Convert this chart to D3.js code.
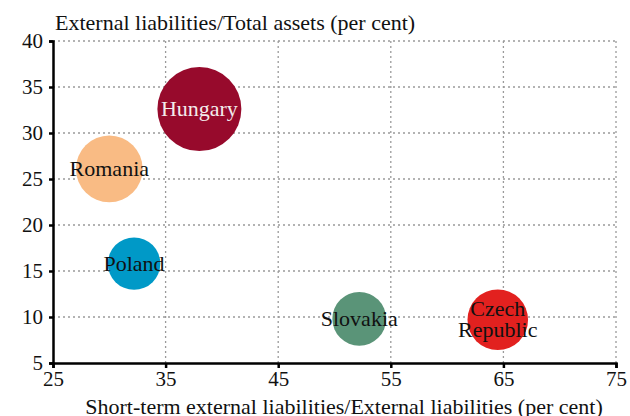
<!DOCTYPE html>
<html>
<head>
<meta charset="utf-8">
<script src="https://cdn.jsdelivr.net/npm/d3@7"></script>
<style>
  body { margin: 0; background: #fff; }
  svg text { font-family: "Liberation Serif", "Times New Roman", serif; }
  .grid line { stroke: #9a9a9a; stroke-width: 1.3; stroke-dasharray: 2,3; }
  .axis path, .axis line { stroke: #000; stroke-width: 2.5; }
  .axis text { font-size: 21px; fill: #111; }
</style>
</head>
<body>
<div id="chart"></div>
<script>
// country bubbles
let countries = ["Hungary", "Romania", "Poland", "Slovakia", "Czech Republic"];
let shortTermShare = [38.0, 30.0, 32.2, 52.2, 64.5];   // x, per cent
let extLiabShare = [32.6, 26.1, 15.8, 9.8, 9.7];       // y, per cent
let bubbleSize = [100, 63, 39, 41, 52];                // relative size
let colors = ["#970a2c", "#f9bb84", "#0099c7", "#5a9478", "#e2211f"];
let labelColors = ["#f4ecec", "#111", "#111", "#111", "#111"];

let xTicks = [25, 35, 45, 55, 65, 75];
let yTicks = [5, 10, 15, 20, 25, 30, 35, 40];

let margin = { top: 41, right: 14, bottom: 53, left: 53 };
let width = 630 - margin.left - margin.right;
let height = 416 - margin.top - margin.bottom;

let svg = d3.select("#chart")
  .append("svg")
  .attr("width", 630)
  .attr("height", 416);

let g = svg.append("g")
  .attr("transform", "translate(" + margin.left + "," + margin.top + ")");

let x = d3.scaleLinear().domain([25, 75]).range([0, width]);
let y = d3.scaleLinear().domain([5, 40]).range([height, 0]);
let r = d3.scaleSqrt().domain([0, 100]).range([0, 42]);

// dotted grid
let grid = g.append("g").attr("class", "grid");

grid.selectAll("line.h")
  .data(yTicks.slice(1))
  .enter()
  .append("line")
  .attr("class", "h")
  .attr("x1", 0)
  .attr("x2", width)
  .attr("y1", (d) => y(d))
  .attr("y2", (d) => y(d));

grid.selectAll("line.v")
  .data(xTicks.slice(1))
  .enter()
  .append("line")
  .attr("class", "v")
  .attr("x1", (d) => x(d))
  .attr("x2", (d) => x(d))
  .attr("y1", 0)
  .attr("y2", height);

// bubbles
let data = countries.map((c, i) => ({
  name: c,
  x: shortTermShare[i],
  y: extLiabShare[i],
  size: bubbleSize[i],
  color: colors[i],
  labelColor: labelColors[i]
}));

g.selectAll("circle")
  .data(data)
  .enter()
  .append("circle")
  .attr("cx", (d) => x(d.x))
  .attr("cy", (d) => y(d.y))
  .attr("r", (d) => r(d.size))
  .attr("fill", (d) => d.color);

// labels (Czech Republic on two lines)
let labels = g.selectAll(".bubble-label")
  .data(data)
  .enter()
  .append("text")
  .attr("class", "bubble-label")
  .attr("text-anchor", "middle")
  .style("font-size", "22px")
  .style("fill", (d) => d.labelColor)
  .attr("x", (d) => x(d.x))
  .attr("y", (d) => y(d.y) + 7);

labels.each(function (d) {
  let words = d.name === "Czech Republic" ? ["Czech", "Republic"] : [d.name];
  let t = d3.select(this);
  words.forEach((w, i) => {
    t.append("tspan")
      .attr("x", x(d.x))
      .attr("dy", i === 0 ? (words.length > 1 ? -11 : 0) : 21)
      .text(w);
  });
});

// axes
g.append("g")
  .attr("class", "axis")
  .attr("transform", "translate(0," + height + ")")
  .call(d3.axisBottom(x).tickValues(xTicks).tickSize(5).tickPadding(3));

g.append("g")
  .attr("class", "axis")
  .call(d3.axisLeft(y).tickValues(yTicks).tickSize(4).tickPadding(6));

// axis titles
svg.append("text")
  .attr("x", 55)
  .attr("y", 30)
  .style("font-size", "22px")
  .style("fill", "#111")
  .text("External liabilities/Total assets (per cent)");

svg.append("text")
  .attr("x", 344)
  .attr("y", 414)
  .attr("text-anchor", "middle")
  .style("font-size", "22px")
  .style("fill", "#111")
  .text("Short-term external liabilities/External liabilities (per cent)");
</script>
</body>
</html>
